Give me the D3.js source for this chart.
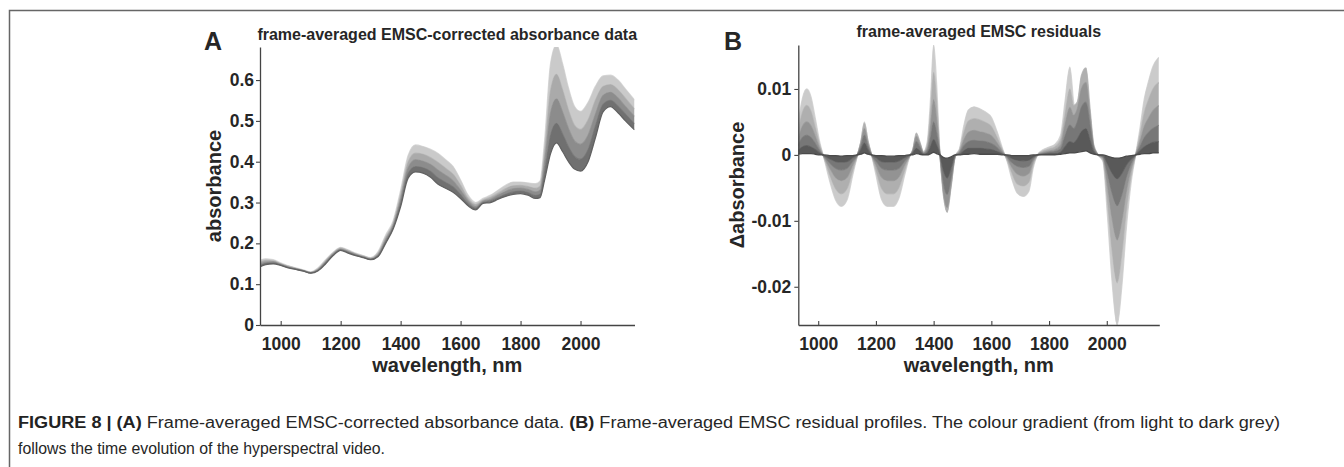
<!DOCTYPE html>
<html>
<head>
<meta charset="utf-8">
<script src="https://cdn.jsdelivr.net/npm/d3@7"></script>
<style>
  body { margin: 0; background: #fff; }
  svg text { font-family: "Liberation Sans", Arial, Helvetica, sans-serif; fill: #262626; }
</style>
</head>
<body>
<div id="figure"></div>
<script>
// Panel A: wavelengths (nm) and frame-averaged absorbance, light (early) -> dark (late)
const waveA = [930, 950, 975, 1000, 1025, 1050, 1075, 1100, 1125, 1150, 1175, 1200, 1225, 1250, 1275, 1300, 1325, 1350, 1375, 1400,
  1425, 1450, 1475, 1500, 1525, 1550, 1575, 1600, 1625, 1650, 1675, 1700, 1725, 1750, 1775, 1800, 1825, 1850, 1865, 1880,
  1900, 1920, 1940, 1960, 1980, 2000, 2025, 2050, 2075, 2100, 2125, 2150, 2180];
const absA1 = [.158, .162, .160, .152, .145, .140, .135, .130, .140, .160, .178, .190, .184, .176, .170, .165, .180, .220, .255, .330,
  .415, .441, .437, .430, .420, .405, .388, .355, .318, .300, .310, .318, .330, .342, .350, .350, .348, .346, .352, .450,
  .640, .686, .640, .580, .535, .523, .545, .585, .610, .612, .600, .578, .551];
const absA2 = [.153, .158, .157, .150, .144, .139, .134, .129, .138, .157, .176, .188, .182, .174, .169, .164, .176, .214, .249, .318,
  .399, .421, .418, .410, .398, .384, .369, .342, .310, .295, .306, .313, .323, .334, .341, .342, .339, .335, .340, .422,
  .574, .614, .576, .526, .489, .479, .502, .551, .584, .589, .576, .555, .529];
const absA3 = [.149, .154, .155, .149, .142, .138, .133, .128, .136, .155, .174, .186, .180, .173, .167, .162, .173, .209, .244, .308,
  .385, .405, .401, .393, .379, .367, .353, .330, .304, .290, .303, .308, .318, .327, .334, .335, .332, .326, .330, .398,
  .519, .554, .522, .481, .451, .443, .465, .517, .562, .570, .556, .535, .511];
const absA4 = [.145, .151, .152, .147, .141, .137, .133, .128, .134, .152, .172, .184, .178, .171, .166, .161, .170, .204, .239, .298,
  .371, .388, .385, .376, .360, .349, .338, .319, .297, .286, .300, .304, .312, .320, .326, .328, .324, .317, .320, .374,
  .464, .494, .468, .436, .413, .406, .429, .488, .540, .550, .536, .516, .493];
const absA5 = [.142, .148, .150, .146, .140, .136, .132, .127, .133, .150, .170, .183, .176, .170, .165, .160, .168, .200, .235, .290,
  .360, .375, .372, .362, .345, .335, .325, .310, .292, .282, .298, .300, .308, .315, .320, .322, .318, .310, .312, .355,
  .420, .446, .425, .400, .382, .377, .400, .460, .522, .535, .520, .500, .478];
const greysA = ["#dadada", "#bababa", "#9a9a9a", "#7e7e7e", "#626262"];

// Panel B: EMSC residuals, light (early) -> dark (late)
const waveB = [930, 945, 960, 975, 990, 1005, 1020, 1040, 1060, 1080, 1100, 1120, 1135, 1148, 1160, 1172, 1185, 1200, 1220, 1240,
  1260, 1280, 1300, 1315, 1328, 1340, 1352, 1365, 1378, 1390, 1400, 1410, 1422, 1435, 1447, 1460, 1475, 1490, 1505, 1520,
  1540, 1560, 1580, 1600, 1620, 1640, 1655, 1670, 1690, 1710, 1730, 1745, 1760, 1780, 1800, 1820, 1840, 1855, 1872, 1885,
  1898, 1912, 1928, 1942, 1955, 1970, 1987, 2002, 2018, 2036, 2052, 2068, 2085, 2100, 2115, 2130, 2145, 2160, 2180];
const resB1 = [.0045, .0085, .0100, .0088, .0055, .0020, -.0005, -.0040, -.0068, -.0078, -.0068, -.0030, -.0002, .0020, .0050, .0022, .0000, -.0030, -.0068, -.0078,
  -.0078, -.0065, -.0030, -.0005, .0008, .0030, .0018, .0005, .0020, .0090, .0167, .0110, .0000, -.0050, -.0060, -.0035, -.0002, .0010, .0045, .0068,
  .0073, .0070, .0065, .0057, .0035, .0008, -.0010, -.0035, -.0058, -.0063, -.0055, -.0020, .0000, .0008, .0012, .0016, .0030, .0080, .0133, .0080,
  .0040, .0070, .0085, .0040, .0008, .0000, -.0010, -.0090, -.0190, -.0258, -.0200, -.0110, -.0040, .0000, .0040, .0085, .0112, .0134, .0148];
const resB2 = [.0034, .0064, .0075, .0066, .0041, .0015, -.0004, -.0030, -.0051, -.0059, -.0051, -.0023, -.0002, .0020, .0048, .0022, .0000, -.0023, -.0051, -.0059,
  -.0059, -.0049, -.0023, -.0004, .0008, .0033, .0020, .0004, .0015, .0068, .0125, .0083, .0000, -.0065, -.0087, -.0050, -.0002, .0008, .0034, .0051,
  .0055, .0053, .0049, .0043, .0026, .0006, -.0008, -.0026, -.0044, -.0047, -.0041, -.0015, .0000, .0006, .0009, .0012, .0023, .0060, .0100, .0075,
  .0080, .0120, .0132, .0070, .0015, .0000, -.0008, -.0068, -.0143, -.0194, -.0150, -.0083, -.0030, .0000, .0030, .0064, .0084, .0100, .0110];
const resB3 = [.0023, .0043, .0050, .0044, .0028, .0010, -.0003, -.0020, -.0034, -.0039, -.0034, -.0015, -.0001, .0018, .0040, .0019, .0000, -.0015, -.0034, -.0039,
  -.0039, -.0033, -.0015, -.0003, .0007, .0028, .0017, .0003, .0010, .0045, .0084, .0055, .0000, -.0060, -.0080, -.0046, -.0001, .0005, .0023, .0034,
  .0037, .0035, .0033, .0029, .0018, .0004, -.0005, -.0018, -.0029, -.0032, -.0028, -.0010, .0000, .0004, .0006, .0008, .0015, .0045, .0072, .0060,
  .0070, .0100, .0110, .0060, .0012, .0000, -.0005, -.0045, -.0095, -.0129, -.0100, -.0055, -.0020, .0000, .0020, .0043, .0056, .0067, .0075];
const resB4 = [.0014, .0026, .0030, .0026, .0017, .0006, -.0002, -.0012, -.0020, -.0023, -.0020, -.0009, -.0001, .0013, .0030, .0014, .0000, -.0009, -.0020, -.0023,
  -.0023, -.0020, -.0009, -.0002, .0005, .0020, .0012, .0002, .0006, .0027, .0050, .0033, .0000, -.0045, -.0060, -.0035, -.0001, .0003, .0014, .0020,
  .0022, .0021, .0020, .0017, .0011, .0002, -.0003, -.0011, -.0017, -.0019, -.0017, -.0006, .0000, .0002, .0004, .0005, .0009, .0028, .0045, .0040,
  .0050, .0072, .0080, .0045, .0010, .0000, -.0003, -.0027, -.0057, -.0077, -.0060, -.0033, -.0012, .0000, .0012, .0026, .0034, .0040, .0045];
const resB5 = [.0006, .0012, .0014, .0012, .0008, .0003, -.0001, -.0006, -.0010, -.0011, -.0010, -.0004, .0000, .0008, .0018, .0008, .0000, -.0004, -.0010, -.0011,
  -.0011, -.0009, -.0004, -.0001, .0003, .0010, .0006, .0001, .0003, .0013, .0023, .0015, .0000, -.0025, -.0035, -.0020, .0000, .0001, .0006, .0010,
  .0010, .0010, .0009, .0008, .0005, .0001, -.0001, -.0005, -.0008, -.0009, -.0008, -.0003, .0000, .0001, .0002, .0002, .0004, .0012, .0020, .0018,
  .0024, .0035, .0040, .0022, .0005, .0000, -.0001, -.0013, -.0027, -.0036, -.0028, -.0015, -.0006, .0000, .0006, .0012, .0016, .0019, .0020];
const resB6 = [.0001, .0002, .0002, .0002, .0001, .0000, .0000, -.0001, -.0001, -.0002, -.0001, -.0001, .0000, .0001, .0003, .0001, .0000, -.0001, -.0001, -.0002,
  -.0002, -.0001, -.0001, .0000, .0000, .0002, .0001, .0000, .0000, .0002, .0004, .0002, .0000, -.0004, -.0005, -.0003, .0000, .0000, .0001, .0001,
  .0002, .0001, .0001, .0001, .0001, .0000, .0000, -.0001, -.0001, -.0001, -.0001, .0000, .0000, .0000, .0000, .0000, .0001, .0002, .0003, .0003,
  .0004, .0005, .0006, .0003, .0001, .0000, .0000, -.0002, -.0004, -.0005, -.0004, -.0002, -.0001, .0000, .0001, .0002, .0002, .0003, .0003];
const greysB = ["#d8d8d8", "#bdbdbd", "#a1a1a1", "#858585", "#686868", "#4a4a4a"];

// tick values
const ticksAx = [1000, 1200, 1400, 1600, 1800, 2000];
const ticksAy = [0, 0.1, 0.2, 0.3, 0.4, 0.5, 0.6];
const ticksBx = [1000, 1200, 1400, 1600, 1800, 2000];
const ticksBy = [-0.02, -0.01, 0, 0.01];

const W = 1344, H = 467;
const svg = d3.select("#figure").append("svg")
    .attr("width", W)
    .attr("height", H);

// page frame (top and left rules)
svg.append("path")
    .attr("d", "M9.5,467 L9.5,10.5 L1344,10.5")
    .attr("fill", "none")
    .attr("stroke", "#666")
    .attr("stroke-width", 1.5);

function drawPanel(p) {
    const x = d3.scaleLinear().domain(p.xDomain).range(p.xRange);
    const y = d3.scaleLinear().domain(p.yDomain).range(p.yRange);
    const g = svg.append("g");

    g.append("clipPath").attr("id", p.id + "-clip")
        .append("rect")
        .attr("x", p.xRange[0]).attr("y", p.yRange[1])
        .attr("width", p.xRange[1] - p.xRange[0])
        .attr("height", p.yRange[0] - p.yRange[1]);

    const plot = g.append("g").attr("clip-path", `url(#${p.id}-clip)`);

    // fill the gaps between neighbouring frames so the family reads as a gradient
    const area = d3.area()
        .x(d => x(d.w))
        .y0(d => y(d.a))
        .y1(d => y(d.b))
        .curve(d3.curveMonotoneX);
    const line = d3.line()
        .x(d => x(d.w))
        .y(d => y(d.v))
        .curve(d3.curveMonotoneX);

    // later (darker) frames are drawn on top of earlier ones
    p.series.forEach((s, i) => {
        plot.append("path")
            .attr("d", line(p.wave.map((w, k) => ({ w: w, v: s[k] }))))
            .attr("fill", "none")
            .attr("stroke", p.greys[i])
            .attr("stroke-width", 1.3);
        if (i < p.series.length - 1) {
            const pair = p.wave.map((w, k) => ({ w: w, a: s[k], b: p.series[i + 1][k] }));
            plot.append("path")
                .attr("d", area(pair))
                .attr("fill", d3.interpolateRgb(p.greys[i], p.greys[i + 1])(0.5))
                .attr("stroke", "none");
        }
    });

    // axes
    const xAxis = g.append("g")
        .attr("transform", `translate(0,${p.yRange[0]})`)
        .call(d3.axisBottom(x).tickValues(p.xTicks).tickSize(-4).tickSizeOuter(0).tickPadding(13).tickFormat(d3.format("d")));
    const yAxis = g.append("g")
        .attr("transform", `translate(${p.xRange[0]},0)`)
        .call(d3.axisLeft(y).tickValues(p.yTicks).tickSize(4).tickSizeOuter(0).tickPadding(p.yPad).tickFormat(p.yFormat));

    [xAxis, yAxis].forEach(a => {
        a.select(".domain").attr("stroke", "#444").attr("stroke-width", 1.3);
        a.selectAll(".tick line").attr("stroke", "#444").attr("stroke-width", 1.1);
        a.selectAll(".tick text")
            .attr("fill", "#262626")
            .style("font-size", "17.5px")
            .style("font-weight", "bold");
    });

    const cx = (p.xRange[0] + p.xRange[1]) / 2;
    const cy = (p.yRange[0] + p.yRange[1]) / 2;

    g.append("text")
        .attr("x", cx).attr("y", 372)
        .attr("text-anchor", "middle")
        .style("font-size", "20px").style("font-weight", "bold")
        .text("wavelength, nm");

    g.append("text")
        .attr("transform", `translate(${p.yLabelX},${cy}) rotate(-90)`)
        .attr("text-anchor", "middle")
        .style("font-size", "20px").style("font-weight", "bold")
        .text(p.yLabel);

    g.append("text")
        .attr("x", cx).attr("y", p.titleY)
        .attr("text-anchor", "middle")
        .style("font-size", "16px").style("font-weight", "bold")
        .text(p.title);

    g.append("text")
        .attr("x", p.letterX).attr("y", 50)
        .style("font-size", "25px").style("font-weight", "bold")
        .attr("fill", "#111")
        .text(p.letter);
}

drawPanel({
    id: "pa", letter: "A", letterX: 204,
    title: "frame-averaged EMSC-corrected absorbance data", titleY: 40,
    yLabel: "absorbance", yLabelX: 221,
    wave: waveA, series: [absA1, absA2, absA3, absA4, absA5], greys: greysA,
    xDomain: [931, 2180], xRange: [260, 634.5],
    yDomain: [0, 0.681], yRange: [325, 47],
    xTicks: ticksAx, yTicks: ticksAy, yPad: 2,
    yFormat: d => d === 0 ? "0" : d.toFixed(1)
});

drawPanel({
    id: "pb", letter: "B", letterX: 724,
    title: "frame-averaged EMSC residuals", titleY: 37,
    yLabel: "\u0394absorbance", yLabelX: 744,
    wave: waveB, series: [resB1, resB2, resB3, resB4, resB5, resB6], greys: greysB,
    xDomain: [931, 2182], xRange: [798.3, 1159.3],
    yDomain: [-0.0258, 0.01667], yRange: [325, 45],
    xTicks: ticksBx, yTicks: ticksBy, yPad: 3,
    yFormat: d => d === 0 ? "0" : d.toFixed(2)
});

// caption
const cap = svg.append("g")
    .style("font-family", "'Liberation Sans Narrow', 'Liberation Sans', Arial, sans-serif")
    .style("font-size", "16px");

const line1 = cap.append("text")
    .attr("x", 18).attr("y", 428)
    .attr("textLength", 1262)
    .attr("lengthAdjust", "spacingAndGlyphs")
    .attr("fill", "#333");
line1.append("tspan").style("font-weight", "bold").attr("fill", "#222").text("FIGURE 8 | (A)");
line1.append("tspan").text(" Frame-averaged EMSC-corrected absorbance data. ");
line1.append("tspan").style("font-weight", "bold").attr("fill", "#222").text("(B)");
line1.append("tspan").text(" Frame-averaged EMSC residual profiles. The colour gradient (from light to dark grey)");

cap.append("text")
    .attr("x", 18).attr("y", 454)
    .attr("textLength", 367)
    .attr("lengthAdjust", "spacingAndGlyphs")
    .attr("fill", "#333")
    .text("follows the time evolution of the hyperspectral video.");
</script>
</body>
</html>
